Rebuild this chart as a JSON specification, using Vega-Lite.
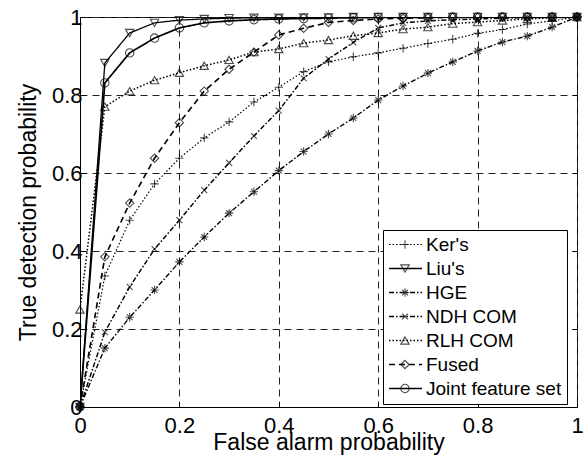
{
  "$schema": "https://vega.github.io/schema/vega-lite/v6.json",
  "width": 497,
  "height": 390,
  "autosize": {"type": "none"},
  "padding": {"left": 80, "top": 17, "right": 7, "bottom": 54},
  "background": "white",
  "config": {
    "view": {"stroke": "black", "strokeWidth": 1},
    "font": "Liberation Sans",
    "axis": {
      "domainColor": "black",
      "tickColor": "black",
      "labelColor": "black",
      "titleColor": "black",
      "labelFont": "Liberation Sans",
      "titleFont": "Liberation Sans",
      "labelFontSize": 22,
      "titleFontSize": 23,
      "titleFontWeight": "normal",
      "tickSize": -5,
      "labelFlush": false,
      "labelOverlap": false,
      "gridColor": "#222",
      "gridDash": [7, 5],
      "gridOpacity": 1
    }
  },
  "data": {
    "values": [
      {"s": "Ker's", "x": 0, "y": 0}, {"s": "Ker's", "x": 0.05, "y": 0.336}, {"s": "Ker's", "x": 0.1, "y": 0.479}, {"s": "Ker's", "x": 0.15, "y": 0.572}, {"s": "Ker's", "x": 0.2, "y": 0.638}, {"s": "Ker's", "x": 0.25, "y": 0.69}, {"s": "Ker's", "x": 0.3, "y": 0.731}, {"s": "Ker's", "x": 0.35, "y": 0.782}, {"s": "Ker's", "x": 0.4, "y": 0.82}, {"s": "Ker's", "x": 0.45, "y": 0.86}, {"s": "Ker's", "x": 0.5, "y": 0.885}, {"s": "Ker's", "x": 0.55, "y": 0.898}, {"s": "Ker's", "x": 0.6, "y": 0.908}, {"s": "Ker's", "x": 0.65, "y": 0.92}, {"s": "Ker's", "x": 0.7, "y": 0.932}, {"s": "Ker's", "x": 0.75, "y": 0.943}, {"s": "Ker's", "x": 0.8, "y": 0.958}, {"s": "Ker's", "x": 0.85, "y": 0.968}, {"s": "Ker's", "x": 0.9, "y": 0.982}, {"s": "Ker's", "x": 0.95, "y": 0.99}, {"s": "Ker's", "x": 1, "y": 1},
      {"s": "Liu's", "x": 0, "y": 0}, {"s": "Liu's", "x": 0.05, "y": 0.882}, {"s": "Liu's", "x": 0.1, "y": 0.959}, {"s": "Liu's", "x": 0.15, "y": 0.985}, {"s": "Liu's", "x": 0.2, "y": 0.992}, {"s": "Liu's", "x": 0.25, "y": 0.995}, {"s": "Liu's", "x": 0.3, "y": 0.997}, {"s": "Liu's", "x": 0.35, "y": 0.998}, {"s": "Liu's", "x": 0.4, "y": 0.998}, {"s": "Liu's", "x": 0.45, "y": 0.999}, {"s": "Liu's", "x": 0.5, "y": 0.999}, {"s": "Liu's", "x": 0.55, "y": 1}, {"s": "Liu's", "x": 0.6, "y": 1}, {"s": "Liu's", "x": 0.65, "y": 1}, {"s": "Liu's", "x": 0.7, "y": 1}, {"s": "Liu's", "x": 0.75, "y": 1}, {"s": "Liu's", "x": 0.8, "y": 1}, {"s": "Liu's", "x": 0.85, "y": 1}, {"s": "Liu's", "x": 0.9, "y": 1}, {"s": "Liu's", "x": 0.95, "y": 1}, {"s": "Liu's", "x": 1, "y": 1},
      {"s": "HGE", "x": 0, "y": 0}, {"s": "HGE", "x": 0.05, "y": 0.151}, {"s": "HGE", "x": 0.1, "y": 0.23}, {"s": "HGE", "x": 0.15, "y": 0.3}, {"s": "HGE", "x": 0.2, "y": 0.372}, {"s": "HGE", "x": 0.25, "y": 0.436}, {"s": "HGE", "x": 0.3, "y": 0.497}, {"s": "HGE", "x": 0.35, "y": 0.552}, {"s": "HGE", "x": 0.4, "y": 0.606}, {"s": "HGE", "x": 0.45, "y": 0.655}, {"s": "HGE", "x": 0.5, "y": 0.7}, {"s": "HGE", "x": 0.55, "y": 0.741}, {"s": "HGE", "x": 0.6, "y": 0.787}, {"s": "HGE", "x": 0.65, "y": 0.823}, {"s": "HGE", "x": 0.7, "y": 0.856}, {"s": "HGE", "x": 0.75, "y": 0.885}, {"s": "HGE", "x": 0.8, "y": 0.913}, {"s": "HGE", "x": 0.85, "y": 0.936}, {"s": "HGE", "x": 0.9, "y": 0.951}, {"s": "HGE", "x": 0.95, "y": 0.974}, {"s": "HGE", "x": 1, "y": 1},
      {"s": "NDH COM", "x": 0, "y": 0}, {"s": "NDH COM", "x": 0.05, "y": 0.192}, {"s": "NDH COM", "x": 0.1, "y": 0.308}, {"s": "NDH COM", "x": 0.15, "y": 0.405}, {"s": "NDH COM", "x": 0.2, "y": 0.479}, {"s": "NDH COM", "x": 0.25, "y": 0.556}, {"s": "NDH COM", "x": 0.3, "y": 0.626}, {"s": "NDH COM", "x": 0.35, "y": 0.695}, {"s": "NDH COM", "x": 0.4, "y": 0.76}, {"s": "NDH COM", "x": 0.45, "y": 0.843}, {"s": "NDH COM", "x": 0.5, "y": 0.892}, {"s": "NDH COM", "x": 0.55, "y": 0.935}, {"s": "NDH COM", "x": 0.6, "y": 0.972}, {"s": "NDH COM", "x": 0.65, "y": 0.985}, {"s": "NDH COM", "x": 0.7, "y": 0.99}, {"s": "NDH COM", "x": 0.75, "y": 0.993}, {"s": "NDH COM", "x": 0.8, "y": 0.995}, {"s": "NDH COM", "x": 0.85, "y": 0.997}, {"s": "NDH COM", "x": 0.9, "y": 0.998}, {"s": "NDH COM", "x": 0.95, "y": 0.999}, {"s": "NDH COM", "x": 1, "y": 1},
      {"s": "RLH COM", "x": 0, "y": 0.25}, {"s": "RLH COM", "x": 0.05, "y": 0.77}, {"s": "RLH COM", "x": 0.1, "y": 0.81}, {"s": "RLH COM", "x": 0.15, "y": 0.838}, {"s": "RLH COM", "x": 0.2, "y": 0.857}, {"s": "RLH COM", "x": 0.25, "y": 0.875}, {"s": "RLH COM", "x": 0.3, "y": 0.89}, {"s": "RLH COM", "x": 0.35, "y": 0.91}, {"s": "RLH COM", "x": 0.4, "y": 0.918}, {"s": "RLH COM", "x": 0.45, "y": 0.933}, {"s": "RLH COM", "x": 0.5, "y": 0.941}, {"s": "RLH COM", "x": 0.55, "y": 0.952}, {"s": "RLH COM", "x": 0.6, "y": 0.959}, {"s": "RLH COM", "x": 0.65, "y": 0.969}, {"s": "RLH COM", "x": 0.7, "y": 0.974}, {"s": "RLH COM", "x": 0.75, "y": 0.983}, {"s": "RLH COM", "x": 0.8, "y": 0.987}, {"s": "RLH COM", "x": 0.85, "y": 0.991}, {"s": "RLH COM", "x": 0.9, "y": 0.995}, {"s": "RLH COM", "x": 0.95, "y": 0.998}, {"s": "RLH COM", "x": 1, "y": 1},
      {"s": "Fused", "x": 0, "y": 0}, {"s": "Fused", "x": 0.05, "y": 0.385}, {"s": "Fused", "x": 0.1, "y": 0.523}, {"s": "Fused", "x": 0.15, "y": 0.638}, {"s": "Fused", "x": 0.2, "y": 0.729}, {"s": "Fused", "x": 0.25, "y": 0.81}, {"s": "Fused", "x": 0.3, "y": 0.866}, {"s": "Fused", "x": 0.35, "y": 0.91}, {"s": "Fused", "x": 0.4, "y": 0.954}, {"s": "Fused", "x": 0.45, "y": 0.971}, {"s": "Fused", "x": 0.5, "y": 0.986}, {"s": "Fused", "x": 0.55, "y": 0.991}, {"s": "Fused", "x": 0.6, "y": 0.995}, {"s": "Fused", "x": 0.65, "y": 0.997}, {"s": "Fused", "x": 0.7, "y": 0.998}, {"s": "Fused", "x": 0.75, "y": 0.999}, {"s": "Fused", "x": 0.8, "y": 0.999}, {"s": "Fused", "x": 0.85, "y": 1}, {"s": "Fused", "x": 0.9, "y": 1}, {"s": "Fused", "x": 0.95, "y": 1}, {"s": "Fused", "x": 1, "y": 1},
      {"s": "Joint feature set", "x": 0, "y": 0}, {"s": "Joint feature set", "x": 0.05, "y": 0.831}, {"s": "Joint feature set", "x": 0.1, "y": 0.908}, {"s": "Joint feature set", "x": 0.15, "y": 0.946}, {"s": "Joint feature set", "x": 0.2, "y": 0.972}, {"s": "Joint feature set", "x": 0.25, "y": 0.985}, {"s": "Joint feature set", "x": 0.3, "y": 0.99}, {"s": "Joint feature set", "x": 0.35, "y": 0.993}, {"s": "Joint feature set", "x": 0.4, "y": 0.995}, {"s": "Joint feature set", "x": 0.45, "y": 0.996}, {"s": "Joint feature set", "x": 0.5, "y": 0.997}, {"s": "Joint feature set", "x": 0.55, "y": 0.998}, {"s": "Joint feature set", "x": 0.6, "y": 0.999}, {"s": "Joint feature set", "x": 0.65, "y": 0.999}, {"s": "Joint feature set", "x": 0.7, "y": 0.999}, {"s": "Joint feature set", "x": 0.75, "y": 1}, {"s": "Joint feature set", "x": 0.8, "y": 1}, {"s": "Joint feature set", "x": 0.85, "y": 1}, {"s": "Joint feature set", "x": 0.9, "y": 1}, {"s": "Joint feature set", "x": 0.95, "y": 1}, {"s": "Joint feature set", "x": 1, "y": 1}
    ]
  },
  "transform": [{"calculate": "datum.s + ' '", "as": "m"}],
  "layer": [
    {
      "mark": {"type": "line", "color": "black", "clip": true},
      "encoding": {
        "x": {
          "field": "x", "type": "quantitative",
          "scale": {"domain": [0, 1], "nice": false, "zero": false},
          "axis": {"values": [0, 0.2, 0.4, 0.6, 0.8, 1], "format": "~g", "title": "False alarm probability", "grid": true, "labelPadding": 13, "titlePadding": -5}
        },
        "y": {
          "field": "y", "type": "quantitative",
          "scale": {"domain": [0, 1], "nice": false, "zero": false},
          "axis": {"values": [0, 0.2, 0.4, 0.6, 0.8, 1], "format": "~g", "title": "True detection probability", "grid": true, "labelPadding": 3, "titlePadding": 11}
        },
        "strokeDash": {
          "field": "s", "type": "nominal",
          "scale": {
            "domain": ["Ker's", "Liu's", "HGE", "NDH COM", "RLH COM", "Fused", "Joint feature set"],
            "range": [[1.5, 2], [1, 0], [5, 2, 1.5, 2], [5, 2, 1.5, 2], [1.5, 2], [6, 4], [1, 0]]
          },
          "legend": {
            "orient": "none", "legendX": 303, "legendY": 213, "title": null,
            "symbolType": "M-2,0H2", "symbolSize": 272, "symbolOffset": 8, "symbolStrokeColor": "black", "symbolStrokeWidth": 1.1,
            "labelFont": "Liberation Sans", "labelFontSize": 19, "labelColor": "black", "labelOffset": 11,
            "strokeColor": "black", "fillColor": "white", "padding": 5, "rowPadding": 4.0
          }
        },
        "strokeWidth": {
          "field": "s", "type": "nominal",
          "scale": {
            "domain": ["Ker's", "Liu's", "HGE", "NDH COM", "RLH COM", "Fused", "Joint feature set"],
            "range": [1.2, 1.7, 1.2, 1.2, 1.2, 1.1, 1.7]
          },
          "legend": null
        }
      }
    },
    {
      "mark": {"type": "point", "filled": false, "color": "black", "strokeWidth": 1.1, "size": 70, "clip": false},
      "encoding": {
        "x": {"field": "x", "type": "quantitative", "axis": {"orient": "top", "values": [0, 0.2, 0.4, 0.6, 0.8, 1], "labels": false, "title": null, "grid": false, "domain": false}},
        "y": {"field": "y", "type": "quantitative", "axis": {"orient": "right", "values": [0, 0.2, 0.4, 0.6, 0.8, 1], "labels": false, "title": null, "grid": false, "domain": false}},
        "shape": {
          "field": "m", "type": "nominal",
          "scale": {
            "domain": ["Ker's ", "Liu's ", "HGE ", "NDH COM ", "RLH COM ", "Fused ", "Joint feature set "],
            "range": ["M-1,0H1M0,-1V1", "triangle-down", "M-1,0H1M0,-1V1M-0.7,-0.7L0.7,0.7M-0.7,0.7L0.7,-0.7", "M-0.7,-0.7L0.7,0.7M-0.7,0.7L0.7,-0.7", "triangle-up", "diamond", "circle"]
          },
          "legend": {
            "orient": "none", "legendX": 303, "legendY": 213, "title": null,
            "symbolSize": 70, "symbolOffset": 7.5, "symbolStrokeColor": "black", "symbolStrokeWidth": 1.1, "symbolFillColor": "white",
            "labelFontSize": 19, "labelOpacity": 0, "padding": 5, "rowPadding": 4.0
          }
        }
      }
    }
  ],
  "resolve": {"axis": {"x": "independent", "y": "independent"}}
}
